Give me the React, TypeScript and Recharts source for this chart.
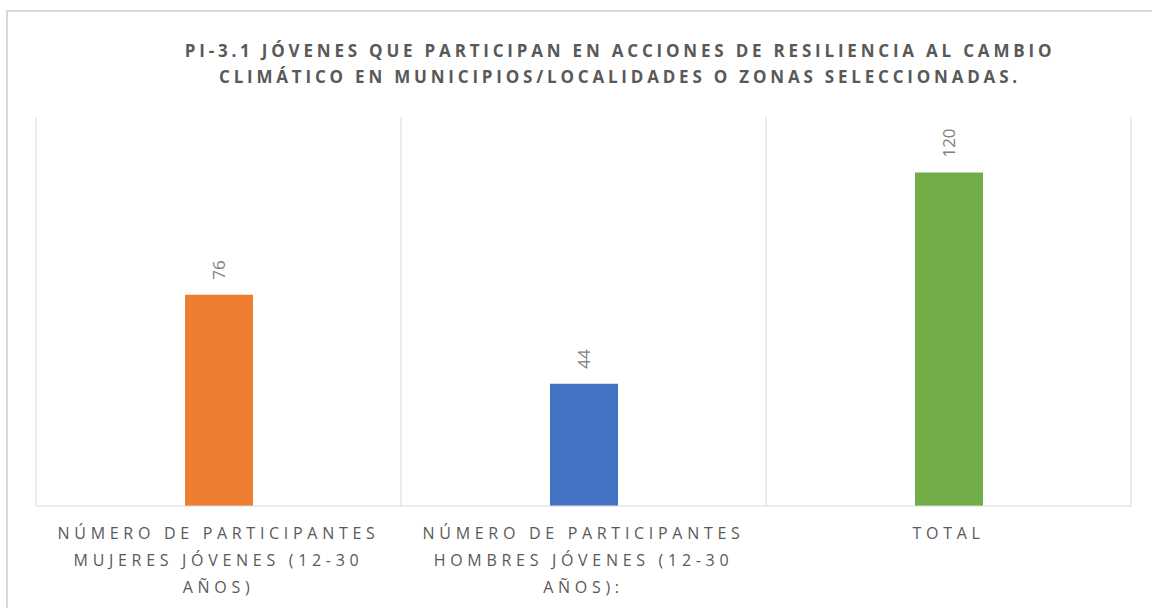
import React from 'react';
import { Bar, BarChart, CartesianGrid, Cell, LabelList, XAxis, YAxis } from 'recharts';

const categories = [
  'NÚMERO DE PARTICIPANTES\nMUJERES JÓVENES (12-30\nAÑOS)',
  'NÚMERO DE PARTICIPANTES\nHOMBRES JÓVENES (12-30\nAÑOS):',
  'TOTAL',
];
const values = [76, 44, 120];
const barColors = ['#ED7D31', '#4472C4', '#70AD47'];
const titleLines = [
  'PI-3.1 JÓVENES QUE PARTICIPAN EN ACCIONES DE RESILIENCIA AL CAMBIO',
  'CLIMÁTICO EN MUNICIPIOS/LOCALIDADES O ZONAS SELECCIONADAS.',
];

const chartData = categories.map((name, i) => ({ name, value: values[i] }));

const FONT = '"Open Sans", sans-serif';

const CategoryTick = (props: any) => {
  const { x, y, payload } = props;
  const lines = String(payload.value).split('\n');
  return (
    <g transform={`translate(${x},${y})`}>
      {lines.map((line, i) => (
        <text
          key={i}
          x={0}
          y={0}
          dy={19 + i * 27}
          textAnchor='middle'
          dominantBaseline='central'
          fill='#595959'
          fontFamily={FONT}
          fontSize={16}
          letterSpacing={4.7}
        >
          {line}
        </text>
      ))}
    </g>
  );
};

// Excel-style rotated label: starts just above the bar and reads upwards
const ValueLabel = (props: any) => {
  const { x, y, width, value } = props;
  const cx = x + width / 2;
  const cy = y - 15;
  return (
    <text
      x={cx}
      y={cy}
      transform={`rotate(-90 ${cx} ${cy})`}
      textAnchor='start'
      dominantBaseline='central'
      fill='#808080'
      fontFamily={FONT}
      fontSize={17}
    >
      {value}
    </text>
  );
};

export default function App() {
  return (
    <div
      style={{
        position: 'absolute',
        left: 0,
        top: 0,
        width: 1152,
        height: 608,
        overflow: 'hidden',
        background: '#fff',
      }}
    >
      <div
        style={{
          position: 'absolute',
          left: 6,
          top: 10,
          width: 1300,
          height: 800,
          border: '2px solid #d9d9d9',
        }}
      />
      <div
        style={{
          position: 'absolute',
          left: 0,
          top: 38,
          width: 1240,
          textAlign: 'center',
          fontFamily: FONT,
          fontWeight: 700,
          fontSize: 17,
          lineHeight: '26px',
          letterSpacing: 3.8,
          color: '#595959',
        }}
      >
        {titleLines.map((t, i) => (
          <div key={i}>{t}</div>
        ))}
      </div>
      <BarChart
        width={1152}
        height={608}
        data={chartData}
        margin={{ top: 117, right: 21, bottom: 72, left: 36 }}
        style={{ position: 'absolute', left: 0, top: 0 }}
      >
        <CartesianGrid
          horizontal={false}
          stroke='#d9d9d9'
          verticalCoordinatesGenerator={({ offset }: any) =>
            categories
              .map((_, i) => offset.left + (i * offset.width) / categories.length)
              .concat(offset.left + offset.width)
          }
        />
        <XAxis
          dataKey='name'
          axisLine={{ stroke: '#d9d9d9' }}
          tickLine={false}
          tick={<CategoryTick />}
          interval={0}
        />
        <YAxis hide domain={[0, 140]} />
        <Bar dataKey='value' barSize={68} isAnimationActive={false}>
          {chartData.map((_, i) => (
            <Cell key={i} fill={barColors[i]} />
          ))}
          <LabelList dataKey='value' content={<ValueLabel />} />
        </Bar>
      </BarChart>
    </div>
  );
}
